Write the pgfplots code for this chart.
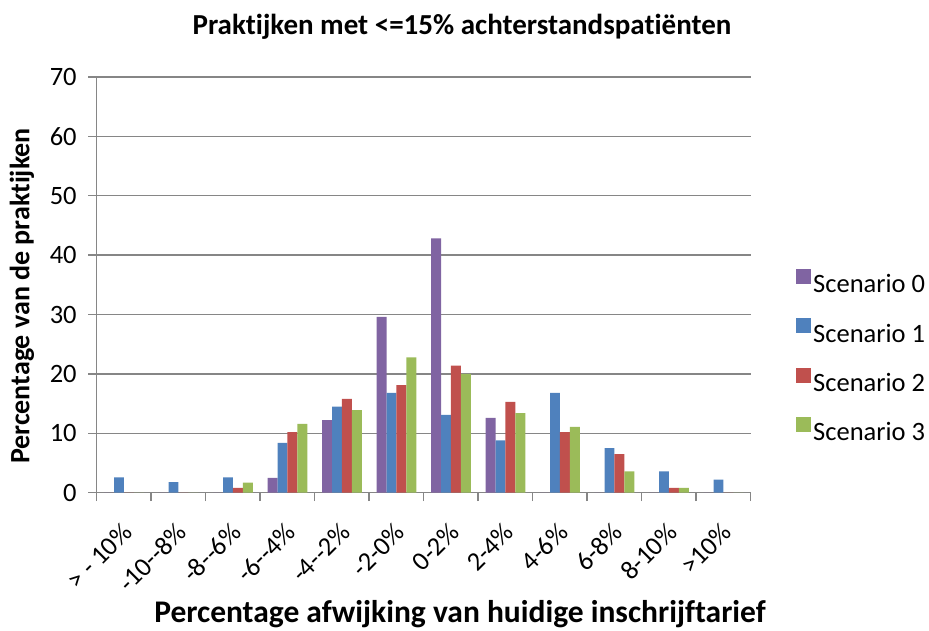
\documentclass[border=0pt]{standalone}
\usepackage{pgfplots}
\pgfplotsset{compat=1.18}
\usepackage{fontspec}
\setmainfont{Carlito}[Ligatures={TeX,NoCommon}]
\definecolor{sa}{HTML}{8064A2}
\definecolor{sb}{HTML}{4F81BD}
\definecolor{sc}{HTML}{C0504D}
\definecolor{sd}{HTML}{9BBB59}
\definecolor{gridc}{HTML}{868686}
\begin{document}
\begin{tikzpicture}[x=1pt,y=1pt]
\path[use as bounding box] (0,0) rectangle (929,631);
\begin{axis}[
  at={(96.7pt,138.3pt)}, anchor=south west,
  scale only axis, width=654pt, height=415.8pt,
  xmin=-0.5, xmax=11.5, ymin=0, ymax=70,
  ytick={0,10,...,70},
  xtick={0,...,11},
  xticklabels={{> - 10\%},{-10-{}-8\%},{-8-{}-6\%},{-6-{}-4\%},{-4-{}-2\%},{-2-0\%},{0-2\%},{2-4\%},{4-6\%},{6-8\%},{8-10\%},{>10\%}},
  minor xtick={-0.5,0.5,...,11.5},
  major x tick style={draw=none},
  minor x tick style={draw=gridc, line width=1.5pt},
  y tick style={draw=gridc, line width=1.5pt},
  tick align=outside,
  major tick length=8.5pt, minor tick length=8.5pt,
  axis x line*=bottom, axis y line*=left,
  axis line style={draw=gridc, line width=1.5pt},
  ymajorgrids, grid style={draw=gridc, line width=1.5pt},
  font=\fontsize{26.5}{30}\selectfont,
  /pgf/number format/assume math mode=true,
  yticklabel style={anchor=east, xshift=-8pt},
  xticklabel style={xshift=-3pt, yshift=-20pt, rotate=45, anchor=north east, inner sep=0pt},
  ybar=0pt, bar width=9.9pt,
  legend style={at={(1.0647,0.327)}, anchor=west, draw=none, fill=none,
    font=\fontsize{26.5}{30}\selectfont, row sep=22pt,
    /tikz/every even column/.append style={column sep=6pt}},
  legend cell align=left,
  legend image code/.code={\fill[#1] (0pt,0.5pt) rectangle (15pt,15.5pt);},
]
\addplot[fill=sa, draw=none] coordinates {(0,0) (1,0) (2,0) (3,2.5) (4,12.2) (5,29.6) (6,42.8) (7,12.6) (8,0) (9,0) (10,0) (11,0)};
\addplot[fill=sb, draw=none] coordinates {(0,2.6) (1,1.8) (2,2.6) (3,8.4) (4,14.5) (5,16.8) (6,13.1) (7,8.8) (8,16.8) (9,7.5) (10,3.6) (11,2.2)};
\addplot[fill=sc, draw=none] coordinates {(0,0) (1,0) (2,0.8) (3,10.2) (4,15.8) (5,18.1) (6,21.4) (7,15.3) (8,10.2) (9,6.5) (10,0.8) (11,0)};
\addplot[fill=sd, draw=none] coordinates {(0,0) (1,0) (2,1.7) (3,11.6) (4,13.9) (5,22.8) (6,20.0) (7,13.4) (8,11.1) (9,3.6) (10,0.8) (11,0)};
\legend{Scenario 0, Scenario 1, Scenario 2, Scenario 3}
\end{axis}
\node[font=\bfseries\fontsize{29}{33}\selectfont] at (462,604) {Praktijken met <=15\% achterstandspatiënten};
\node[font=\bfseries\fontsize{31.5}{35}\selectfont] at (460,17) {Percentage afwijking van huidige inschrijftarief};
\node[font=\bfseries\fontsize{28}{32}\selectfont, rotate=90] at (22,335) {Percentage van de praktijken};
\end{tikzpicture}
\end{document}
